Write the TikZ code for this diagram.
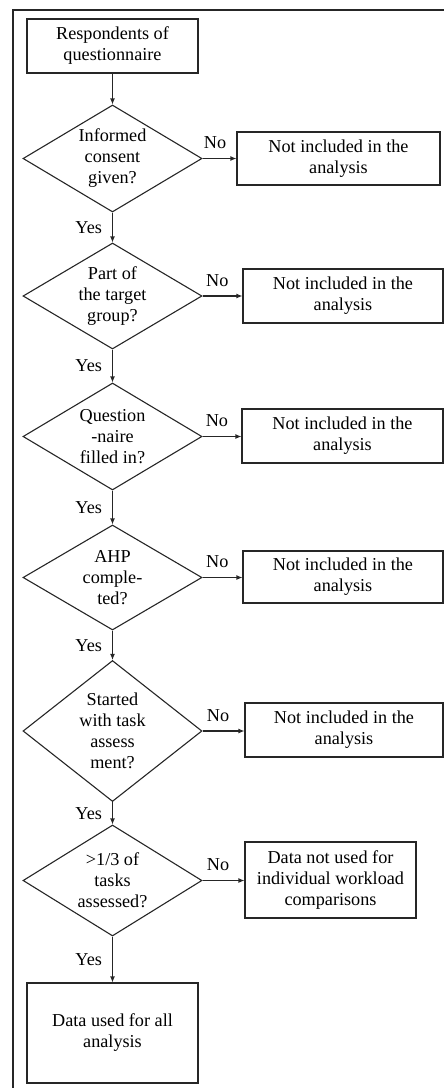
\documentclass[tikz,border=0pt]{standalone}
\usepackage{fontspec}
\setmainfont{Liberation Serif}
\usetikzlibrary{shapes.geometric,arrows.meta}

\tikzset{
  txt/.style={font=\fontsize{18.2}{21}\selectfont, align=center, inner sep=0pt},
  stepbox/.style={txt, draw=black!85, line width=1.1pt, rectangle},
  decision/.style={txt, draw=black!85, line width=1.1pt, diamond, minimum width=179pt},
  flow/.style={draw=black!85, line width=1.1pt, -{Latex[length=6pt,width=5pt]}},
  yeslbl/.style={txt, midway, left=10pt},
  nolbl/.style={txt, pos=0.37, above=9pt}
}

\begin{document}
\begin{tikzpicture}[x=1pt, y=-1pt]
  \useasboundingbox (0,0) rectangle (444,1088);

  % outer frame (left and top edges)
  \draw[black!85, line width=2pt] (13,1088) -- (13,10) -- (444,10);

  % main column
  \node[stepbox, minimum width=171pt, minimum height=54pt] (start) at (112.5,46) {Respondents of\\questionnaire};
  \node[decision, minimum height=107pt, aspect=1.67] (d1) at (112.5,158.5) {Informed\\consent\\given?};
  \node[decision, minimum height=106pt, aspect=1.69] (d2) at (112.5,296) {Part of\\the target\\group?};
  \node[decision, minimum height=107pt, aspect=1.67] (d3) at (112.5,436.5) {Question\\-naire\\filled in?};
  \node[decision, minimum height=105pt, aspect=1.70] (d4) at (112.5,577.5) {AHP\\comple-\\ted?};
  \node[decision, minimum height=141pt, aspect=1.27] (d5) at (112.5,731) {Started\\with task\\assess\\ment?};
  \node[decision, minimum height=111pt, aspect=1.61] (d6) at (112.5,880.5) {>1/3 of\\tasks\\assessed?};
  \node[stepbox, minimum width=171pt, minimum height=100pt] (final) at (112.5,1033) {Data used for all\\analysis};

  % exclusion boxes
  \node[stepbox, minimum width=203pt, minimum height=53pt] (b1) at (338.5,158.5) {Not included in the\\analysis};
  \node[stepbox, minimum width=200pt, minimum height=54pt] (b2) at (343,296) {Not included in the\\analysis};
  \node[stepbox, minimum width=201pt, minimum height=54pt] (b3) at (342.5,436) {Not included in the\\analysis};
  \node[stepbox, minimum width=200pt, minimum height=52pt] (b4) at (343,577) {Not included in the\\analysis};
  \node[stepbox, minimum width=198pt, minimum height=54pt] (b5) at (344,730) {Not included in the\\analysis};
  \node[stepbox, minimum width=171pt, minimum height=76pt] (b6) at (330.5,880) {Data not used for\\individual workload\\comparisons};

  % yes branches
  \draw[flow] (start.south) -- (d1.north);
  \draw[flow] (d1.south) -- node[yeslbl] {Yes} (d2.north);
  \draw[flow] (d2.south) -- node[yeslbl] {Yes} (d3.north);
  \draw[flow] (d3.south) -- node[yeslbl] {Yes} (d4.north);
  \draw[flow] (d4.south) -- node[yeslbl] {Yes} (d5.north);
  \draw[flow] (d5.south) -- node[yeslbl] {Yes} (d6.north);
  \draw[flow] (d6.south) -- node[yeslbl] {Yes} (final.north);

  % no branches
  \draw[flow] (d1.east) -- node[nolbl] {No} (d1.east -| b1.west);
  \draw[flow] (d2.east) -- node[nolbl] {No} (d2.east -| b2.west);
  \draw[flow] (d3.east) -- node[nolbl] {No} (d3.east -| b3.west);
  \draw[flow] (d4.east) -- node[nolbl] {No} (d4.east -| b4.west);
  \draw[flow] (d5.east) -- node[nolbl] {No} (d5.east -| b5.west);
  \draw[flow] (d6.east) -- node[nolbl] {No} (d6.east -| b6.west);
\end{tikzpicture}
\end{document}
